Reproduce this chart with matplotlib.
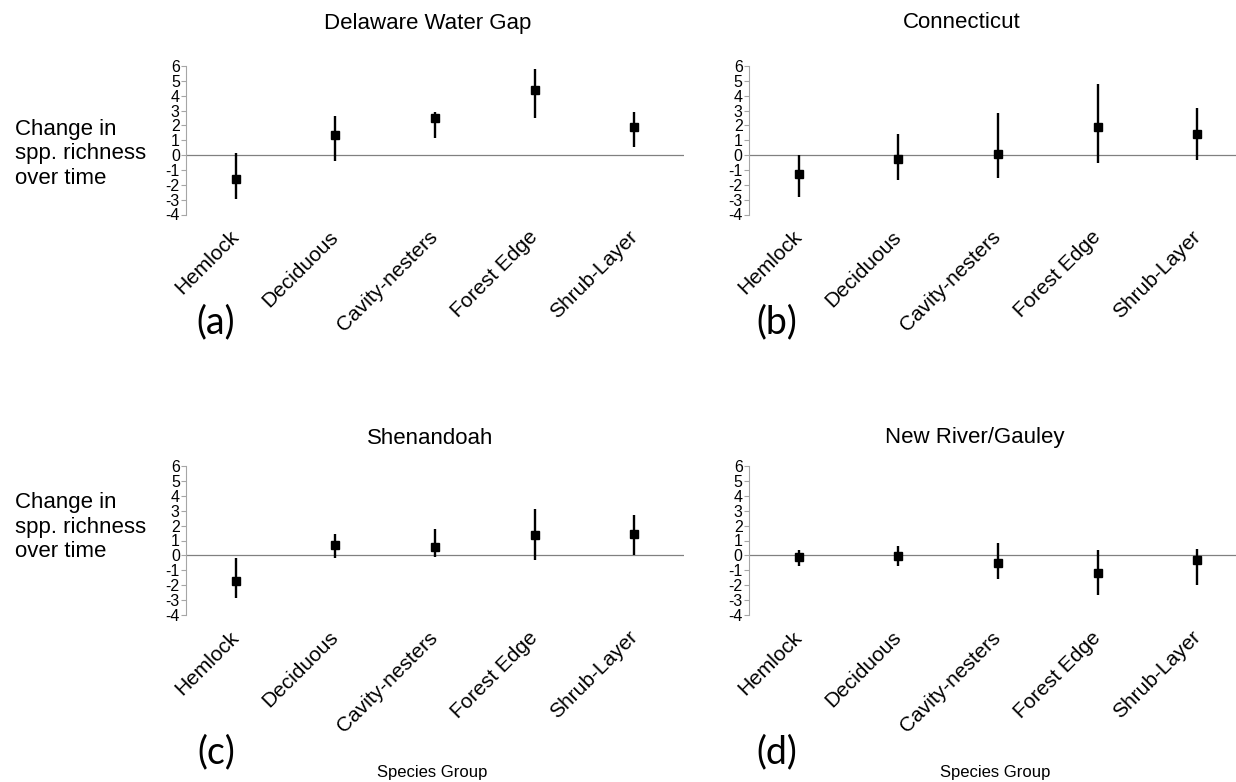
# coding: utf-8

import matplotlib.pyplot as plt

plt.rcParams['font.family'] = ['Liberation Sans', 'DejaVu Sans']
plt.rcParams['axes.unicode_minus'] = False

groups = ['Hemlock', 'Deciduous', 'Cavity-nesters', 'Forest Edge', 'Shrub-Layer']

# change in species richness, with lower / upper ends of the error bars
dwg_mean = [-1.61, 1.35, 2.53, 4.39, 1.87]
dwg_low = [-2.94, -0.43, 1.17, 2.49, 0.56]
dwg_high = [0.11, 2.65, 2.91, 5.78, 2.93]

ct_mean = [-1.29, -0.23, 0.05, 1.90, 1.44]
ct_low = [-2.80, -1.67, -1.53, -0.56, -0.34]
ct_high = [0.00, 1.42, 2.82, 4.81, 3.18]

shen_mean = [-1.74, 0.70, 0.59, 1.36, 1.42]
shen_low = [-2.87, -0.16, -0.11, -0.34, 0.00]
shen_high = [-0.18, 1.43, 1.76, 3.10, 2.72]

nrg_mean = [-0.09, -0.02, -0.49, -1.20, -0.29]
nrg_low = [-0.74, -0.69, -1.60, -2.66, -1.99]
nrg_high = [0.36, 0.62, 0.80, 0.36, 0.42]

yticks = list(range(-4, 7))

W, H = 1236, 782


def px_axes(fig, left, top, right, bottom):
    return fig.add_axes([left / W, 1 - bottom / H, (right - left) / W, (bottom - top) / H])


def panel(ax, mean, low, high):
    x = range(len(groups))
    err = [[m - l for m, l in zip(mean, low)], [h - m for m, h in zip(mean, high)]]
    ax.axhline(0, color='#808080', lw=0.9, zorder=1)
    ax.errorbar(x, mean, yerr=err, fmt='s', color='black', ms=5.5, elinewidth=1.7,
                capsize=0, zorder=3)
    ax.set_xlim(-0.5, len(groups) - 0.5)
    ax.set_ylim(-4, 6)
    ax.set_yticks(yticks)
    ax.set_yticklabels([str(t) for t in yticks], fontsize=11.5)
    ax.set_xticks(list(x))
    ax.set_xticklabels(groups, fontsize=15, rotation=45, ha='right', va='center',
                       rotation_mode='anchor')
    ax.tick_params(axis='x', length=0, pad=14)
    ax.tick_params(axis='y', length=3.5, width=0.8, color='#a6a6a6', pad=1)
    for s in ('top', 'right', 'bottom'):
        ax.spines[s].set_visible(False)
    ax.spines['left'].set_color('#a6a6a6')
    ax.spines['left'].set_linewidth(0.8)


fig = plt.figure(figsize=(W / 100, H / 100), dpi=100)

ax_a = px_axes(fig, 186, 66, 684, 214.5)
ax_b = px_axes(fig, 749, 66, 1247, 214.5)
ax_c = px_axes(fig, 186, 466, 684, 615)
ax_d = px_axes(fig, 749, 466, 1247, 615)

panel(ax_a, dwg_mean, dwg_low, dwg_high)
panel(ax_b, ct_mean, ct_low, ct_high)
panel(ax_c, shen_mean, shen_low, shen_high)
panel(ax_d, nrg_mean, nrg_low, nrg_high)


def ftext(x, y, s, **kw):
    fig.text(x / W, 1 - y / H, s, **kw)


ftext(428, 23, 'Delaware Water Gap', ha='center', va='center', fontsize=16)
ftext(962, 23, 'Connecticut', ha='center', va='center', fontsize=16)
ftext(430, 438, 'Shenandoah', ha='center', va='center', fontsize=16)
ftext(975, 438, 'New River/Gauley', ha='center', va='center', fontsize=16)

ylab = 'Change in\nspp. richness\nover time'
ftext(15, 154, ylab, ha='left', va='center', fontsize=16, linespacing=1.22)
ftext(15, 527, ylab, ha='left', va='center', fontsize=16, linespacing=1.22)

for lab, x, y in [('(a)', 216, 322), ('(b)', 777, 322), ('(c)', 216, 752), ('(d)', 777, 752)]:
    ftext(x, y, lab, ha='center', va='center', fontsize=27, family=['Lato', 'DejaVu Sans'])

ftext(432, 772, 'Species Group', ha='center', va='center', fontsize=12)
ftext(995, 772, 'Species Group', ha='center', va='center', fontsize=12)

plt.savefig('out.png', dpi=100)
